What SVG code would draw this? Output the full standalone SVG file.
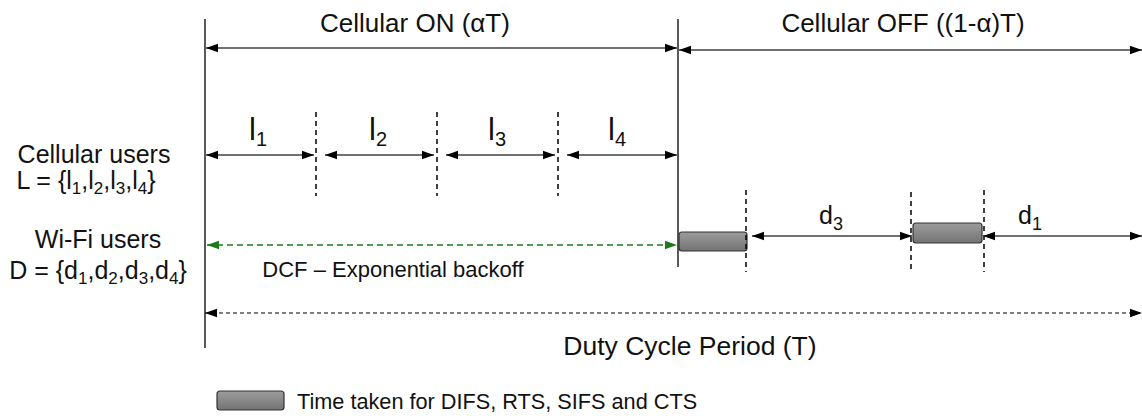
<svg xmlns="http://www.w3.org/2000/svg" width="1142" height="420" viewBox="0 0 1142 420">
<defs>
<linearGradient id="g" x1="0" y1="0" x2="0" y2="1">
<stop offset="0" stop-color="#9c9c9c"/>
<stop offset="1" stop-color="#737373"/>
</linearGradient>
<marker id="ah" viewBox="0 0 12 10" refX="12" refY="5" markerWidth="12" markerHeight="10" markerUnits="userSpaceOnUse" orient="auto-start-reverse">
<path d="M0,0.8 L12,5 L0,9.2 z" fill="#000"/>
</marker>
<marker id="ahg" viewBox="0 0 12 10" refX="12" refY="5" markerWidth="12" markerHeight="10" markerUnits="userSpaceOnUse" orient="auto-start-reverse">
<path d="M0,0.8 L12,5 L0,9.2 z" fill="#1c7a1c"/>
</marker>
</defs>
<style>
text{font-family:"Liberation Sans",Arial,sans-serif;fill:#111}
.axis{stroke:#000;stroke-width:1.3;fill:none}
.arr{stroke:#404040;stroke-width:1.5;fill:none;marker-start:url(#ah);marker-end:url(#ah)}
.div{stroke:#000;stroke-width:1.5;stroke-dasharray:5 4;fill:none}
.dcf{stroke:#1c7a1c;stroke-width:1.5;stroke-dasharray:6 4;fill:none;marker-start:url(#ahg);marker-end:url(#ahg)}
.duty{stroke:#000;stroke-width:1.2;stroke-dasharray:4 3;fill:none;marker-start:url(#ah);marker-end:url(#ah)}
.box{fill:url(#g);stroke:#333;stroke-width:1.2}
.t26{font-size:26px}
.t265{font-size:26.5px}
.t25{font-size:25px}
.t22{font-size:22px}
.t217{font-size:21.7px}
.lab{font-size:31px}
.dl{font-size:25px}
</style>

<g id="axes">
<line class="axis" x1="205" y1="19" x2="205" y2="348"/>
<line class="axis" x1="678" y1="19" x2="678" y2="267"/>
</g>

<g id="titles">
<text class="t26" x="415" y="32" text-anchor="middle">Cellular ON (αT)</text>
<text class="t26" x="903" y="32" text-anchor="middle">Cellular OFF ((1-α)T)</text>
</g>

<g id="left-labels">
<text class="t25" x="94" y="163" text-anchor="middle">Cellular users</text>
<text class="t25" x="86" y="189" text-anchor="middle">L = {l<tspan font-size="17" dy="5">1</tspan><tspan dy="-5">,l</tspan><tspan font-size="17" dy="5">2</tspan><tspan dy="-5">,l</tspan><tspan font-size="17" dy="5">3</tspan><tspan dy="-5">,l</tspan><tspan font-size="17" dy="5">4</tspan><tspan dy="-5">}</tspan></text>
<text class="t25" x="98" y="248" text-anchor="middle">Wi-Fi users</text>
<text class="t25" x="98" y="279" text-anchor="middle">D = {d<tspan font-size="17" dy="5">1</tspan><tspan dy="-5">,d</tspan><tspan font-size="17" dy="5">2</tspan><tspan dy="-5">,d</tspan><tspan font-size="17" dy="5">3</tspan><tspan dy="-5">,d</tspan><tspan font-size="17" dy="5">4</tspan><tspan dy="-5">}</tspan></text>
</g>

<g id="cellular-slots">
<text class="lab" x="258" y="140" text-anchor="middle">l<tspan font-size="20" dy="6">1</tspan></text>
<text class="lab" x="378" y="140" text-anchor="middle">l<tspan font-size="20" dy="6">2</tspan></text>
<text class="lab" x="497" y="140" text-anchor="middle">l<tspan font-size="20" dy="6">3</tspan></text>
<text class="lab" x="617" y="140" text-anchor="middle">l<tspan font-size="20" dy="6">4</tspan></text>
</g>

<g id="wifi-slots">
<rect id="rts1" class="box" x="679" y="232" width="68" height="19" rx="3"/>
<rect id="rts2" class="box" x="913" y="223" width="69" height="20" rx="3"/>
<text class="dl" x="831" y="224" text-anchor="middle">d<tspan font-size="18" dy="6">3</tspan></text>
<text class="dl" x="1030" y="224" text-anchor="middle">d<tspan font-size="18" dy="6">1</tspan></text>
<text class="t22" x="393" y="277" text-anchor="middle">DCF – Exponential backoff</text>
<text class="t265" x="690" y="355" text-anchor="middle">Duty Cycle Period (T)</text>
</g>

<g id="legend">
<rect class="box" x="217" y="391" width="67" height="19" rx="3"/>
<text class="t217" x="297" y="409">Time taken for DIFS, RTS, SIFS and CTS</text>
</g>

<g id="connectors">
<line class="arr" x1="206" y1="48" x2="677" y2="48"/>
<line class="arr" x1="679" y1="50" x2="1142" y2="50"/>
<line class="div" x1="316" y1="112" x2="316" y2="196"/>
<line class="div" x1="437" y1="112" x2="437" y2="196"/>
<line class="div" x1="558" y1="112" x2="558" y2="196"/>
<line class="arr" x1="206" y1="155" x2="314" y2="155"/>
<line class="arr" x1="325" y1="155" x2="434" y2="155"/>
<line class="arr" x1="446" y1="155" x2="555" y2="155"/>
<line class="arr" x1="567" y1="155" x2="677" y2="155"/>
<line class="div" x1="746" y1="190" x2="746" y2="272"/>
<line class="div" x1="911" y1="192" x2="911" y2="273"/>
<line class="div" x1="984" y1="190" x2="984" y2="272"/>
<line class="arr" x1="752" y1="236" x2="912" y2="236"/>
<line class="arr" x1="983" y1="236" x2="1142" y2="236"/>
<line class="dcf" x1="207" y1="245" x2="677" y2="245"/>
<line class="duty" x1="205" y1="313" x2="1142" y2="313"/>
</g>
</svg>
